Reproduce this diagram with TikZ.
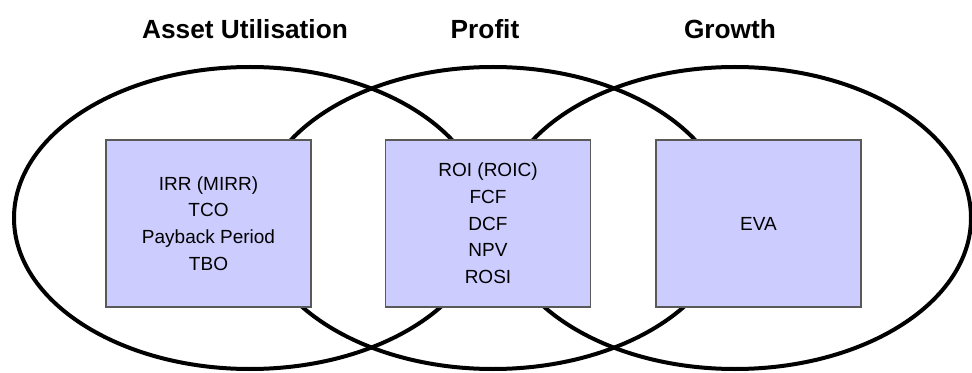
\documentclass[tikz,border=0pt]{standalone}
\usepackage{fontspec}
\setmainfont{Liberation Sans}

\begin{document}
\begin{tikzpicture}[x=0.75pt,y=0.75pt,
    area/.style={line width=3pt},
    metricbox/.style={draw=black!65,fill=blue!20,line width=1pt,
      minimum width=153.75pt,minimum height=125.25pt,align=center,
      font=\fontsize{14.25}{20}\selectfont},
    heading/.style={font=\bfseries\fontsize{19.7}{24}\selectfont}]
  \useasboundingbox (0,0) rectangle (972,372);

  \draw[area] (250,154) ellipse (236 and 151);
  \draw[area] (493,154) ellipse (236 and 151);
  \draw[area] (735,154) ellipse (236 and 151);

  \node[heading] (asset) at (245,343) {Asset Utilisation};
  \node[heading] (profit) at (485,343) {Profit};
  \node[heading] (growth) at (730,343) {Growth};

  \node[metricbox] (assetbox) at (208.5,148.5) {IRR (MIRR)\\TCO\\Payback Period\\TBO};
  \node[metricbox] (profitbox) at (488,148.5) {ROI (ROIC)\\FCF\\DCF\\NPV\\ROSI};
  \node[metricbox] (growthbox) at (758.5,148.5) {EVA};
\end{tikzpicture}
\end{document}
